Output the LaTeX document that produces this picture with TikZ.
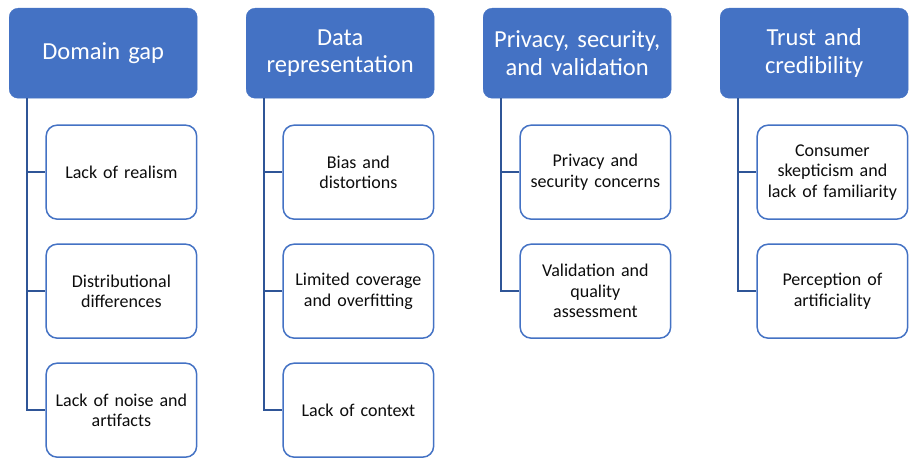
\documentclass[tikz,border=0pt]{standalone}
\usepackage{fontspec}
\setmainfont{Carlito}
\usepackage{xcolor}
\usepackage{tikz}
\usetikzlibrary{positioning}
\definecolor{hdblue}{HTML}{4472C4}
\definecolor{rim}{HTML}{4472C4}
\definecolor{wire}{HTML}{2F5597}
\definecolor{ink}{HTML}{0D0D0D}
\tikzset{
  headbox/.style={fill=hdblue, draw=hdblue, rounded corners=9pt, text=white, align=center,
    minimum width=188pt, minimum height=90pt, text width=180pt, inner sep=0pt,
    font=\fontsize{24.5}{27.5}\selectfont},
  subbox/.style={draw=rim, line width=1.5pt, fill=white, rounded corners=11pt, text=ink, align=center,
    minimum width=150.5pt, minimum height=94pt, text width=146pt, inner sep=0pt,
    font=\fontsize{18}{20.5}\selectfont},
  link/.style={draw=wire, line width=1.8pt}
}
\begin{document}
\begin{tikzpicture}[x=1pt, y=1pt, node distance=23.5pt and 48.6pt]
  \useasboundingbox (0,0) rectangle (915,-465);

  \node[headbox, anchor=north west] (dom) at (9,-8) {Domain gap};
  \node[headbox, right=48.6pt of dom] (rep) {Data\\representation};
  \node[headbox, right=48.6pt of rep] (priv) {Privacy, security,\\and validation};
  \node[headbox, right=48.6pt of priv] (trust) {Trust and\\credibility};

  \node[subbox, below left=26pt and 0pt of dom.south east] (d1) {Lack of realism};
  \node[subbox, below=23.5pt of d1] (d2) {Distributional\\differences};
  \node[subbox, below=23.5pt of d2] (d3) {Lack of noise and\\artifacts};

  \node[subbox, below left=26pt and 0pt of rep.south east] (r1) {Bias and\\distortions};
  \node[subbox, below=23.5pt of r1] (r2) {Limited coverage\\and overfitting};
  \node[subbox, below=23.5pt of r2] (r3) {Lack of context};

  \node[subbox, below left=26pt and 0pt of priv.south east] (p1) {Privacy and\\security concerns};
  \node[subbox, below=23.5pt of p1] (p2) {Validation and\\quality\\assessment};

  \node[subbox, below left=26pt and 0pt of trust.south east] (t1) {Consumer\\skepticism and\\lack of familiarity};
  \node[subbox, below=23.5pt of t1] (t2) {Perception of\\artificiality};

  \draw[link] ([xshift=18pt]dom.south west) |- (d3.west);
  \draw[link] ([xshift=18pt]dom.south west) |- (d2.west);
  \draw[link] ([xshift=18pt]dom.south west) |- (d1.west);

  \draw[link] ([xshift=18pt]rep.south west) |- (r3.west);
  \draw[link] ([xshift=18pt]rep.south west) |- (r2.west);
  \draw[link] ([xshift=18pt]rep.south west) |- (r1.west);

  \draw[link] ([xshift=18pt]priv.south west) |- (p2.west);
  \draw[link] ([xshift=18pt]priv.south west) |- (p1.west);

  \draw[link] ([xshift=18pt]trust.south west) |- (t2.west);
  \draw[link] ([xshift=18pt]trust.south west) |- (t1.west);
\end{tikzpicture}
\end{document}
